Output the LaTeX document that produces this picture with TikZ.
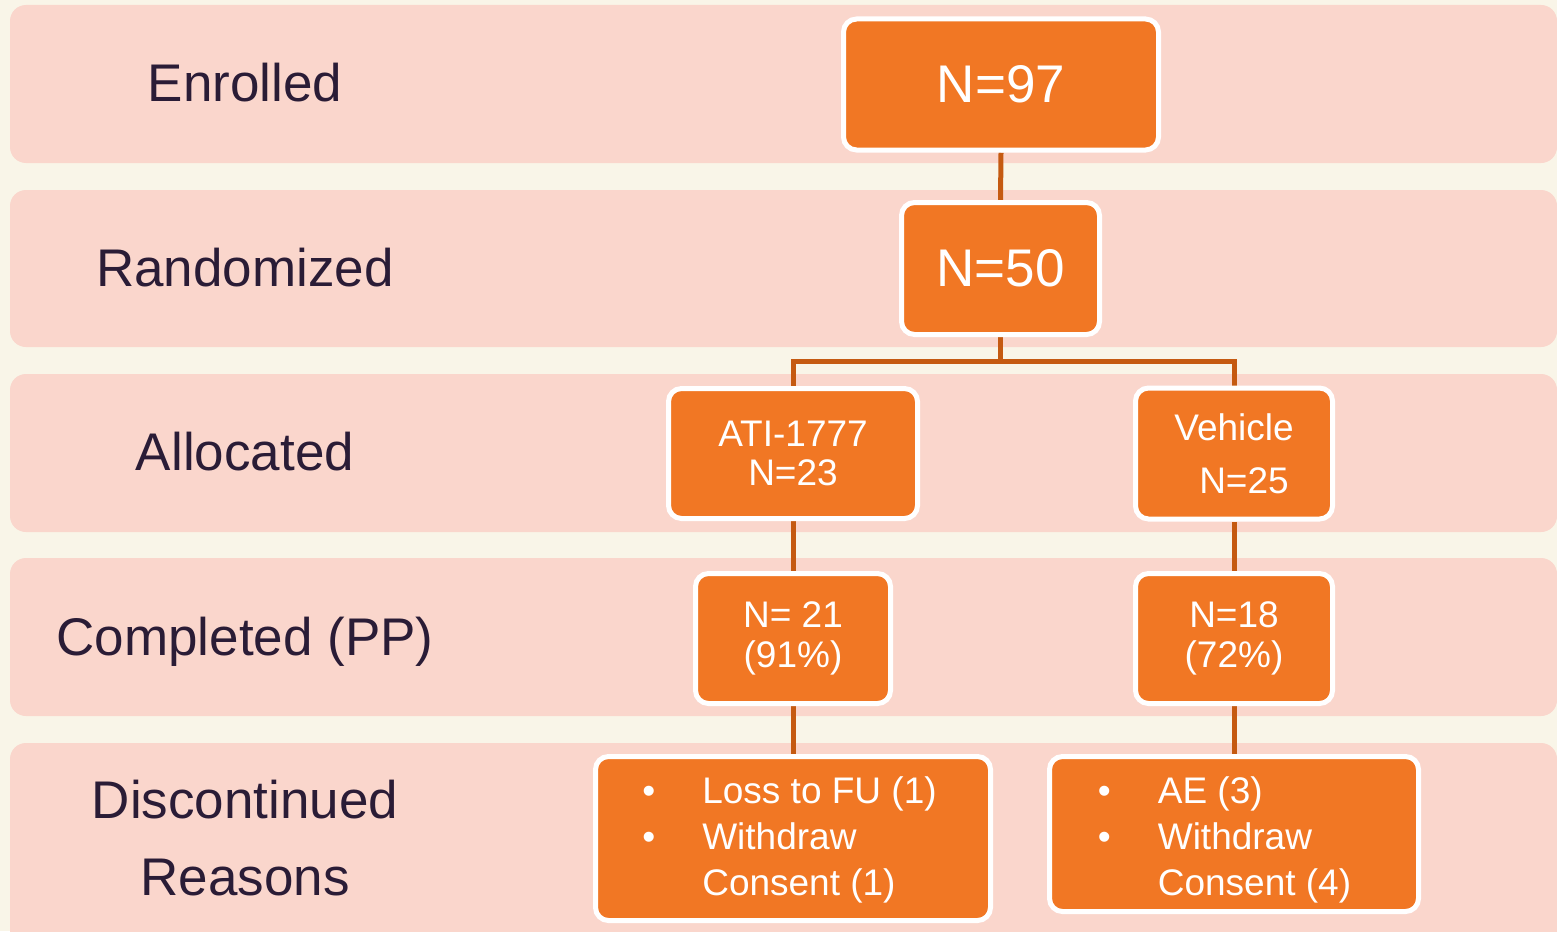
\documentclass[tikz,border=0pt]{standalone}
\usepackage{fontspec}
\setmainfont{Liberation Sans}
\usetikzlibrary{backgrounds}
\definecolor{cream}{RGB}{249,245,232}
\definecolor{bandpink}{RGB}{250,214,204}
\definecolor{boxorange}{RGB}{241,119,36}
\definecolor{linkorange}{RGB}{197,90,17}
\definecolor{labeltext}{RGB}{42,28,54}
\pgfdeclarelayer{bands}
\pgfsetlayers{bands,background,main}
\tikzset{
  band/.style={fill=bandpink, draw=none, rounded corners=16pt},
  rowlabel/.style={text=labeltext, font=\fontsize{53}{62}\selectfont, inner sep=0pt, align=center},
  obox/.style={fill=boxorange, draw=white, line width=5pt, rounded corners=13pt,
    text=white, inner sep=0pt, align=center},
  bigtext/.style={font=\fontsize{53}{60}\selectfont},
  midtext/.style={font=\fontsize{37}{39}\selectfont},
  link/.style={draw=linkorange, line width=5pt}
}
\begin{document}
\begin{tikzpicture}[x=1pt,y=-1pt]
\useasboundingbox (0,0) rectangle (1557,931);
\begin{pgfonlayer}{bands}
\fill[cream] (0,0) rectangle (1557,931);
\path[band] (10,5) rectangle (1557,163);
\path[band] (10,190) rectangle (1557,347);
\path[band] (10,374) rectangle (1557,532);
\path[band] (10,558) rectangle (1557,716);
\path[band] (10,743) rectangle (1557,960);
\end{pgfonlayer}

% row labels
\node[rowlabel, text height=38pt, text depth=0pt] (lenr) at (245,83) {Enrolled};
\node[rowlabel, text height=38pt, text depth=0pt] (lran) at (245,267) {Randomized};
\node[rowlabel, text height=38pt, text depth=0pt] (lall) at (245,451) {Allocated};
\node[rowlabel, text height=38pt, text depth=0pt] (lcom) at (245,636) {Completed (PP)};
\node[rowlabel, font=\fontsize{53}{77}\selectfont] (ldis) at (245,838) {Discontinued\\Reasons};

% boxes
\node[obox, bigtext, minimum width=315pt, minimum height=131pt] (n97) at (1001,84.5) {N=97};
\node[obox, bigtext, minimum width=198pt, minimum height=132pt] (n50) at (1000.5,268.5) {N=50};
\node[obox, midtext, minimum width=249pt, minimum height=130pt] (ati) at (793,453.5) {ATI-1777\\N=23};
\node[obox, midtext, minimum width=197pt, minimum height=131pt] (veh) at (1234,453.5) {Vehicle\\[14pt]\hspace*{20pt}N=25};
\node[obox, midtext, minimum width=195pt, minimum height=130pt] (c21) at (793,638.5) {N= 21\\[1pt](91\%)};
\node[obox, midtext, minimum width=197pt, minimum height=130pt] (c18) at (1234,638.5) {N=18\\[1pt](72\%)};
\node[obox, minimum width=395pt, minimum height=164pt, font=\fontsize{37}{46}\selectfont] (dl) at (793,838.5)
  {\raisebox{-2pt}[\height][\depth]{\begin{tabular}{@{}p{60pt}@{}l@{\hspace{7pt}}}
   \textbullet & Loss to FU (1)\\
   \textbullet & Withdraw\\
               & Consent (1)
   \end{tabular}}};
\node[obox, minimum width=369pt, minimum height=155pt, font=\fontsize{37}{46}\selectfont] (dr) at (1234,834)
  {\raisebox{-6pt}[\height][\depth]{\begin{tabular}{@{}p{60pt}@{}l@{\hspace{19pt}}}
   \textbullet & AE (3)\\
   \textbullet & Withdraw\\
               & Consent (4)
   \end{tabular}}};

\coordinate (split) at (1000.5,361);
\begin{pgfonlayer}{background}
\draw[link] (n97.south) -- (n50.north);
\draw[link] (n50.south) -- (split);
\draw[link] (ati.north) |- (split) -| (veh.north);
\draw[link] (ati.south) -- (c21.north);
\draw[link] (c21.south) -- (dl.north);
\draw[link] (veh.south) -- (c18.north);
\draw[link] (c18.south) -- (dr.north);
\end{pgfonlayer}
\end{tikzpicture}
\end{document}
